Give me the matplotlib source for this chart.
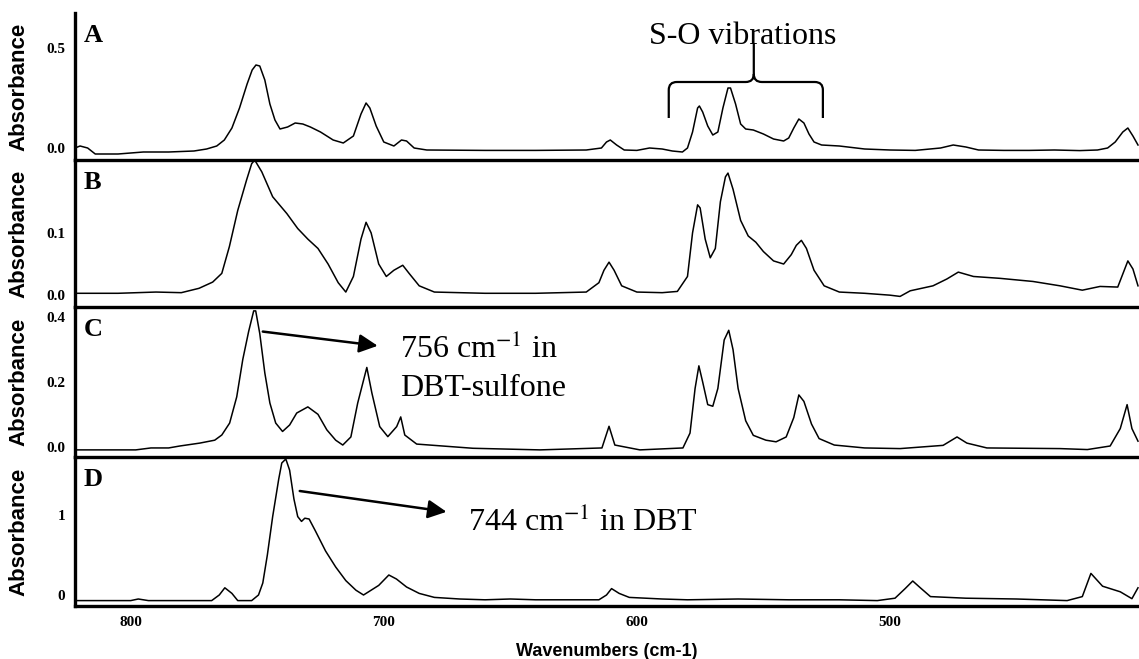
import matplotlib
matplotlib.use("Agg")
import matplotlib.pyplot as plt
from matplotlib.path import Path
from matplotlib.patches import PathPatch

plt.rcParams['mathtext.fontset'] = 'stix'

# ---------------- data (wavenumber cm-1, absorbance) ----------------
A_wn = [822, 820, 817, 814, 805, 795, 785, 775, 770, 766, 763, 760, 757, 754, 752, 750.5, 749, 747, 745, 743,
        741, 738, 735, 732, 729, 725, 720, 716, 712, 709, 707, 705.5, 703, 700, 696, 693, 691, 688, 683, 660,
        640, 620, 614, 612, 610.5, 608, 605, 600, 595, 590, 586, 582, 580, 578, 576, 575.3, 574, 572, 570, 568,
        566, 564, 563, 561, 559, 557, 554, 550, 546, 542, 540, 538, 536, 534, 532, 530, 527, 520, 510, 500,
        490, 480, 475, 470, 465, 455, 445, 435, 425, 418, 414, 411, 408, 406, 404, 402]
A_abs = [0.0, 0.01, 0.0, -0.03, -0.03, -0.02, -0.02, -0.015, -0.005, 0.01, 0.04, 0.10, 0.2, 0.32, 0.39, 0.415, 0.41, 0.34, 0.22, 0.14,
         0.095, 0.105, 0.125, 0.12, 0.105, 0.08, 0.04, 0.025, 0.06, 0.17, 0.225, 0.2, 0.11, 0.03, 0.01, 0.04, 0.035, 0.0, -0.01, -0.012,
         -0.012, -0.01, 0.0, 0.03, 0.04, 0.015, -0.01, -0.012, 0.0, -0.005, -0.015, -0.02, 0.0, 0.08, 0.2, 0.21, 0.18, 0.11, 0.065, 0.08,
         0.2, 0.3, 0.3, 0.22, 0.12, 0.095, 0.09, 0.07, 0.045, 0.035, 0.05, 0.1, 0.145, 0.125, 0.07, 0.03, 0.015, 0.01, -0.005, -0.01,
         -0.012, 0.0, 0.015, 0.005, -0.01, -0.012, -0.012, -0.01, -0.013, -0.01, 0.0, 0.03, 0.08, 0.1, 0.06, 0.015]

B_wn = [822, 805, 790, 780, 773, 767.6, 764, 761, 757.7, 754.2, 752.2, 751, 748.2, 743.9, 738.3, 734, 730, 726, 722, 718,
        715, 712, 709, 707, 705, 702, 699, 696, 692.5, 690, 686, 680, 660, 640, 620, 615, 613, 611, 609, 606,
        600, 590, 584, 580, 578, 576, 575, 573, 571, 569, 567, 565, 564, 562, 559, 556, 553, 550, 546, 542,
        539, 537, 535, 533, 530, 526, 520, 510, 500, 496, 492, 483, 477.5, 473, 467, 456.5, 443.5, 432.8, 424, 417,
        410, 406, 404, 402]
B_abs = [0.003, 0.003, 0.005, 0.004, 0.011, 0.021, 0.035, 0.078, 0.136, 0.185, 0.211, 0.217, 0.198, 0.158, 0.131, 0.107, 0.09, 0.075, 0.05, 0.02,
         0.005, 0.03, 0.09, 0.117, 0.1, 0.05, 0.03, 0.04, 0.048, 0.035, 0.015, 0.005, 0.003, 0.003, 0.005, 0.02, 0.04, 0.053, 0.04, 0.015,
         0.005, 0.004, 0.006, 0.03, 0.1, 0.145, 0.14, 0.09, 0.06, 0.075, 0.15, 0.19, 0.196, 0.17, 0.12, 0.095, 0.085, 0.07, 0.055, 0.05,
         0.065, 0.08, 0.088, 0.075, 0.04, 0.015, 0.005, 0.003, 0.0, -0.002, 0.007, 0.015, 0.026, 0.037, 0.03, 0.027, 0.022, 0.015, 0.008, 0.014,
         0.013, 0.055, 0.042, 0.015]

C_wn = [822, 798, 792, 785, 780.6, 772.7, 766.8, 764, 760.9, 758.1, 755.7, 753.4, 751.4, 750.6, 749, 747, 745, 742.7, 740, 737.2,
        734.4, 730, 726, 722.5, 719, 716.2, 713, 710.3, 706.7, 704.7, 701.6, 698.4, 694.9, 693.3, 691.7, 687, 664.8, 638.3, 613.8, 611,
        608.7, 598.8, 581.8, 579, 577, 575.5, 574, 572, 570, 568, 565.5, 563.7, 562, 560, 557, 554, 549, 545, 541, 538,
        536, 534, 531, 528, 522, 510, 496, 479, 473.5, 469.6, 461.7, 432.8, 422, 413, 409, 406.3, 404.4, 402]
C_abs = [-0.01, -0.01, -0.004, -0.004, 0.002, 0.011, 0.02, 0.036, 0.073, 0.154, 0.27, 0.356, 0.42, 0.42, 0.35, 0.228, 0.135, 0.073, 0.047, 0.067,
         0.104, 0.123, 0.1, 0.052, 0.02, 0.005, 0.03, 0.135, 0.245, 0.166, 0.062, 0.031, 0.062, 0.092, 0.036, 0.008, -0.005, -0.01, -0.004, 0.063,
         0.005, -0.01, -0.004, 0.042, 0.18, 0.25, 0.2, 0.13, 0.125, 0.18, 0.33, 0.36, 0.3, 0.18, 0.08, 0.035, 0.02, 0.015, 0.03, 0.09,
         0.16, 0.14, 0.07, 0.025, 0.005, -0.004, -0.006, 0.004, 0.03, 0.011, -0.004, -0.006, -0.009, 0.002, 0.056, 0.13, 0.056, 0.017]

D_wn = [822, 800, 797, 793, 768, 765, 762.8, 760, 757.7, 752.2, 749.5, 747.8, 746, 743.9, 741.5, 740.3, 738.7, 737.2, 735.5, 734,
        732.5, 731.2, 729.5, 727, 723, 719, 715, 711, 708, 705, 702, 698, 695, 691, 686, 680, 670, 660, 650, 640,
        615, 612, 610, 607, 603, 590, 580, 560, 540, 520, 505, 498, 494, 491, 488, 484, 470, 450, 430, 424,
        420.6, 416, 409, 404.4, 402]
D_abs = [-0.07, -0.07, -0.05, -0.07, -0.07, 0.0, 0.09, 0.02, -0.07, -0.07, 0.0, 0.15, 0.5, 0.98, 1.45, 1.65, 1.7, 1.56, 1.2, 0.98,
         0.92, 0.96, 0.95, 0.8, 0.55, 0.35, 0.18, 0.06, 0.0, 0.06, 0.12, 0.25, 0.2, 0.1, 0.02, -0.03, -0.05, -0.06, -0.05, -0.06,
         -0.06, 0.0, 0.08, 0.02, -0.03, -0.05, -0.06, -0.05, -0.06, -0.06, -0.07, -0.04, 0.08, 0.175, 0.09, -0.02, -0.04, -0.05, -0.07, -0.02,
         0.27, 0.11, 0.04, -0.046, 0.09]

panel_letters = ['A', 'B', 'C', 'D']
y_ticks = [[0.0, 0.5], [0.0, 0.1], [0.0, 0.2, 0.4], [0, 1]]
y_ticklabels = [['0.0', '0.5'], ['0.0', '0.1'], ['0.0', '0.2', '0.4'], ['0', '1']]
y_limits = [(-0.06, 0.675), (-0.019, 0.217), (-0.032, 0.432), (-0.1375, 1.725)]
x_ticks = [800, 700, 600, 500]
x_limits = (822, 401.6)

series = [(A_wn, A_abs), (B_wn, B_abs), (C_wn, C_abs), (D_wn, D_abs)]

# ---------------- figure ----------------
W, H = 1139, 659
fig = plt.figure(figsize=(W / 100, H / 100), dpi=100)
panel_px = [(13, 160), (160, 307), (307, 457), (457, 606)]
left_px = 75
axes = []
for i, (top, bot) in enumerate(panel_px):
    ax = fig.add_axes([left_px / W, 1 - bot / H, 1 - left_px / W, (bot - top) / H])
    axes.append(ax)
    wn, ab = series[i]
    ax.plot(wn, ab, color='black', lw=1.1)
    ax.set_xlim(*x_limits)
    ax.set_ylim(*y_limits[i])
    ax.set_yticks(y_ticks[i])
    ax.set_yticklabels(y_ticklabels[i], fontfamily='Liberation Serif', fontweight='bold', fontsize=11)
    ax.set_xticks(x_ticks)
    ax.tick_params(axis='both', length=0, pad=7)
    for s in ['top', 'right']:
        ax.spines[s].set_visible(False)
    for s in ['left', 'bottom']:
        ax.spines[s].set_linewidth(2.4)
        ax.spines[s].set_color('black')
    if i < 3:
        ax.set_xticklabels([])
    else:
        ax.set_xticklabels([str(t) for t in x_ticks], fontfamily='Liberation Serif',
                           fontweight='bold', fontsize=11)
    ax.set_ylabel('Absorbance', fontfamily='Liberation Sans', fontweight='bold', fontsize=16)
    ax.yaxis.set_label_coords(-(left_px - 29) / (W - left_px), 0.5)
    ax.annotate(panel_letters[i], xy=(0, 1), xycoords='axes fraction', xytext=(6, -8),
                textcoords='offset points', ha='left', va='top', fontfamily='Liberation Serif',
                fontweight='bold', fontsize=19)
    ax.patch.set_alpha(0)

axD = axes[3]
axD.set_xlabel('Wavenumbers (cm-1)', fontfamily='Liberation Sans', fontweight='bold', fontsize=13, labelpad=10)

# ---------------- annotations ----------------
axA = axes[0]
verts = [(587.4, 0.15), (587.4, 0.29), (587.4, 0.33), (584.2, 0.33), (557.0, 0.33), (553.8, 0.33), (553.8, 0.37),
         (553.8, 0.525), (553.8, 0.37), (553.8, 0.33), (550.6, 0.33), (529.7, 0.33), (526.5, 0.33), (526.5, 0.29),
         (526.5, 0.15)]
codes = [Path.MOVETO, Path.LINETO, Path.CURVE3, Path.CURVE3, Path.LINETO, Path.CURVE3, Path.CURVE3,
         Path.LINETO, Path.MOVETO, Path.CURVE3, Path.CURVE3, Path.LINETO, Path.CURVE3, Path.CURVE3, Path.LINETO]
axA.add_patch(PathPatch(Path(verts, codes), fill=False, lw=1.6, edgecolor='black', clip_on=False))
axA.text(558, 0.555, 'S-O vibrations', ha='center', va='center', fontfamily='Liberation Serif', fontsize=23)

axC = axes[2]
axC.annotate('', xy=(702.4, 0.312), xytext=(747.8, 0.356),
             arrowprops=dict(arrowstyle='-|>', mutation_scale=28, lw=1.8, color='black', shrinkA=0, shrinkB=0))
axC.text(693.7, 0.30, '756 cm$^{-1}$ in', ha='left', va='center', fontfamily='Liberation Serif', fontsize=23)
axC.text(693.7, 0.18, 'DBT-sulfone', ha='left', va='center', fontfamily='Liberation Serif', fontsize=23)

axD.annotate('', xy=(675.2, 1.04), xytext=(733.2, 1.30),
             arrowprops=dict(arrowstyle='-|>', mutation_scale=28, lw=1.8, color='black', shrinkA=0, shrinkB=0))
axD.text(666.8, 0.91, '744 cm$^{-1}$ in DBT', ha='left', va='center', fontfamily='Liberation Serif', fontsize=23)

fig.savefig('out.png', dpi=100)
